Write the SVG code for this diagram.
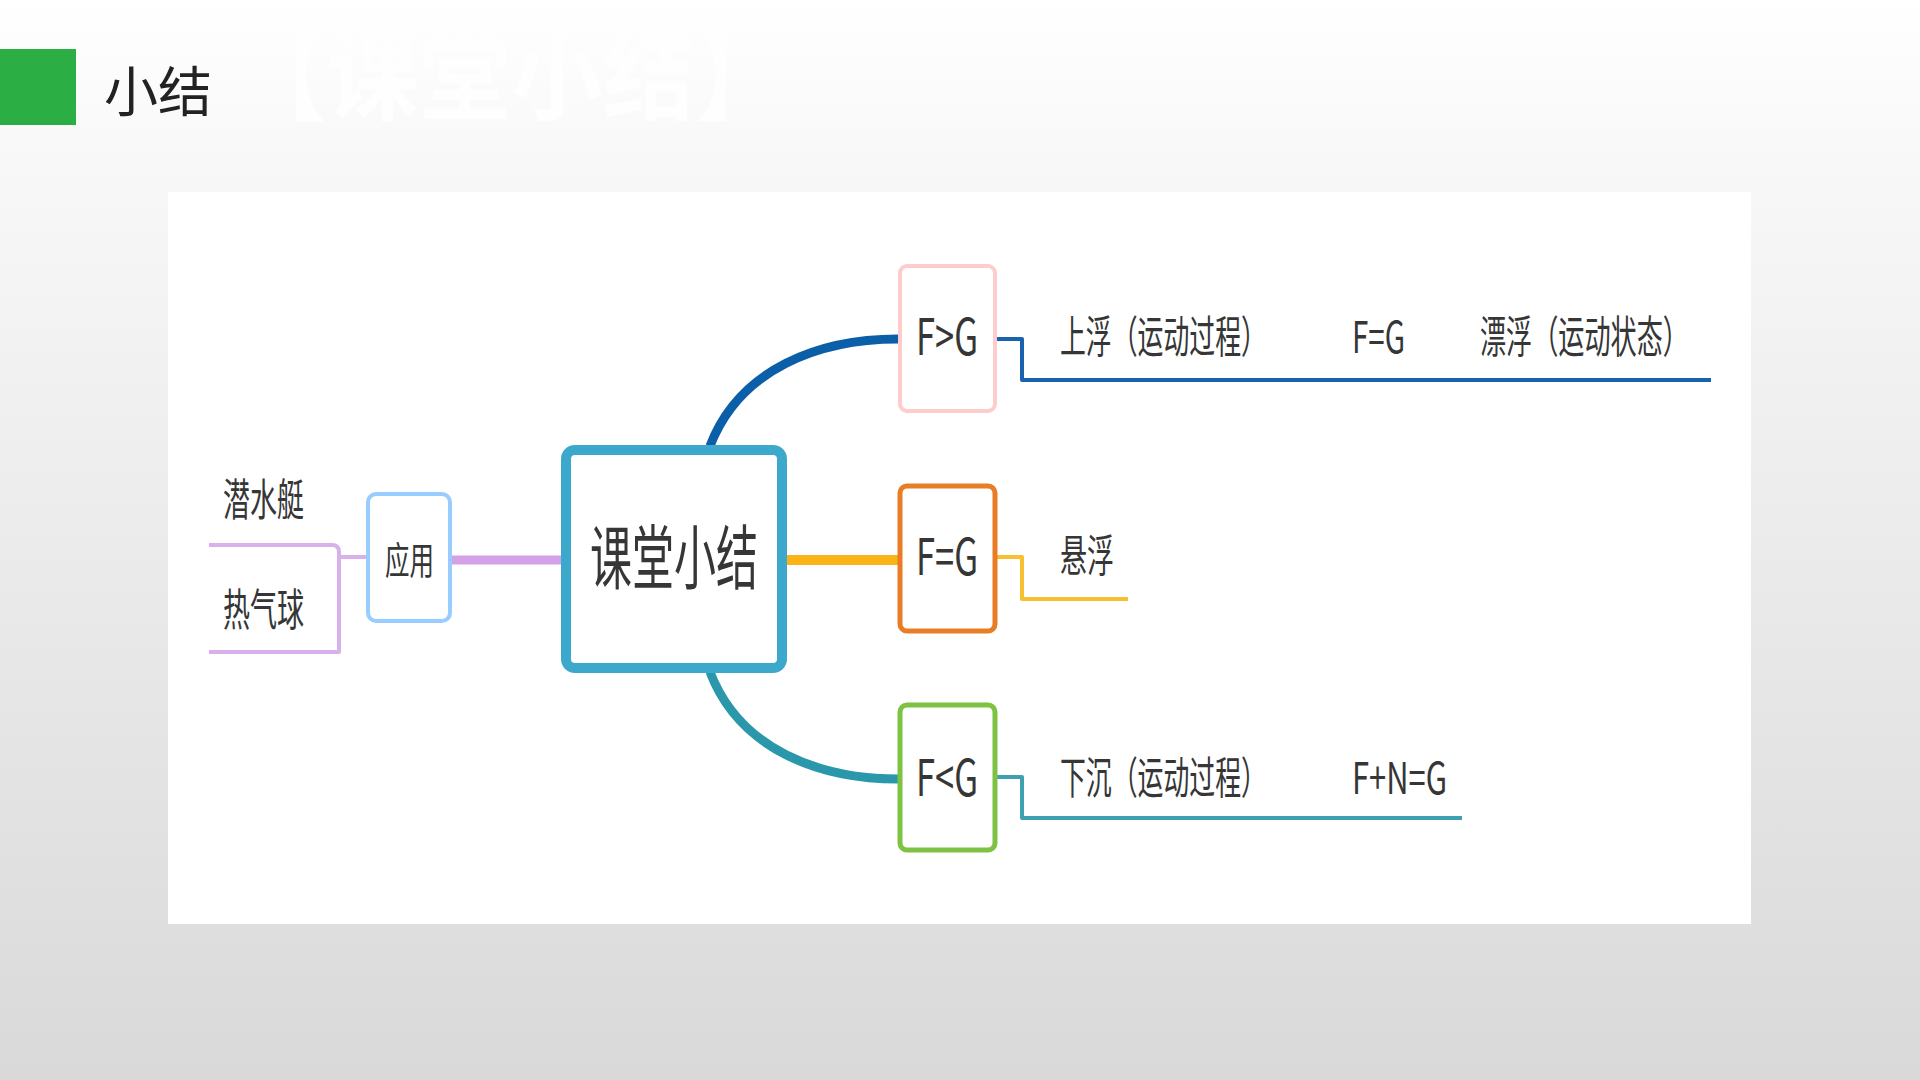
<svg xmlns="http://www.w3.org/2000/svg" width="1920" height="1080" viewBox="0 0 1920 1080">
<defs>
<linearGradient id="bg" x1="0" y1="0" x2="0" y2="1">
<stop offset="0" stop-color="#ffffff"/>
<stop offset="0.15" stop-color="#f8f8f8"/>
<stop offset="1" stop-color="#d9d9d9"/>
</linearGradient>
<style>
.t{font-family:"Noto Sans CJK SC","Microsoft YaHei",sans-serif;fill:#363636;}
.box{fill:#ffffff;}
.c{fill:none;stroke-linejoin:round;}
</style>
</defs>
<rect x="0" y="0" width="1920" height="1080" fill="url(#bg)"/>
<rect x="0" y="49" width="76" height="76" fill="#2bae44"/>
<text class="t" x="104" y="112" font-size="54" style="fill:#222">小结</text>
<text transform="translate(235,112) scale(0.92,1)" font-size="100" font-weight="bold" font-family="Noto Sans CJK SC,sans-serif" fill="#ffffff" opacity="0.85">【课堂小结】</text>
<rect x="168" y="192" width="1583" height="732" fill="#ffffff"/>

<g id="connectors">
<path class="c" d="M710 446 C740 368 820 339 898 339" stroke="#0b5ea8" stroke-width="9"/>
<path class="c" d="M786 560 L898 560" stroke="#fbb416" stroke-width="10"/>
<path class="c" d="M710 672 C740 750 820 779 898 779" stroke="#2a98aa" stroke-width="9"/>
<path class="c" d="M452 560 L562 560" stroke="#d4a0e8" stroke-width="9"/>
<path class="c" d="M366 557 L339 557" stroke="#d8b0ec" stroke-width="4"/>
<path class="c" d="M209 545 L332 545 Q339 545 339 552 L339 652 L209 652" stroke="#d8b0ec" stroke-width="4"/>
<path class="c" d="M997 339 L1022 339 L1022 380 L1711 380" stroke="#1a62ad" stroke-width="4"/>
<path class="c" d="M997 557 L1022 557 L1022 599 L1128 599" stroke="#f8c030" stroke-width="4"/>
<path class="c" d="M997 777 L1022 777 L1022 818 L1462 818" stroke="#3ea0b0" stroke-width="4"/>
</g>

<g id="center">
<rect class="box" x="566" y="450" width="216" height="218" rx="9" stroke="#3ba8cc" stroke-width="10"/>
<text class="t" transform="translate(590,584) scale(0.6,1)" font-size="70">课堂小结</text>
</g>
<g id="fgt">
<rect class="box" x="900" y="266" width="95" height="145" rx="7" stroke="#ffcccc" stroke-width="4"/>
<text class="t" x="916" y="355" font-size="50" textLength="62" lengthAdjust="spacingAndGlyphs">F&gt;G</text>
</g>
<g id="feq">
<rect class="box" x="900" y="486" width="95" height="145" rx="7" stroke="#e87d25" stroke-width="5"/>
<text class="t" x="916" y="575" font-size="50" textLength="62" lengthAdjust="spacingAndGlyphs">F=G</text>
</g>
<g id="flt">
<rect class="box" x="900" y="705" width="95" height="145" rx="7" stroke="#7dc242" stroke-width="5"/>
<text class="t" x="916" y="796" font-size="50" textLength="62" lengthAdjust="spacingAndGlyphs">F&lt;G</text>
</g>
<g id="yingyong">
<rect class="box" x="368" y="494" width="82" height="127" rx="8" stroke="#99ccff" stroke-width="4"/>
<text class="t" transform="translate(385,574) scale(0.645,1)" font-size="38">应用</text>
</g>
<g id="qianshuiting">
<text class="t" transform="translate(223,516) scale(0.614,1)" font-size="44">潜水艇</text>
</g>
<g id="reqiqiu">
<text class="t" transform="translate(223,626) scale(0.614,1)" font-size="44">热气球</text>
</g>
<g id="shangfu">
<text class="t" transform="translate(1060,353) scale(0.588,1)" font-size="44">上浮（运动过程）</text>
</g>
<g id="fg2">
<text class="t" x="1352" y="353" font-size="44" textLength="53" lengthAdjust="spacingAndGlyphs">F=G</text>
</g>
<g id="piaofu">
<text class="t" transform="translate(1480,353) scale(0.594,1)" font-size="44">漂浮（运动状态）</text>
</g>
<g id="xuanfu">
<text class="t" transform="translate(1060,572) scale(0.614,1)" font-size="44">悬浮</text>
</g>
<g id="xiachen">
<text class="t" transform="translate(1060,794) scale(0.588,1)" font-size="44">下沉（运动过程）</text>
</g>
<g id="fng">
<text class="t" x="1352" y="794" font-size="44" textLength="95" lengthAdjust="spacingAndGlyphs">F+N=G</text>
</g>
</svg>
